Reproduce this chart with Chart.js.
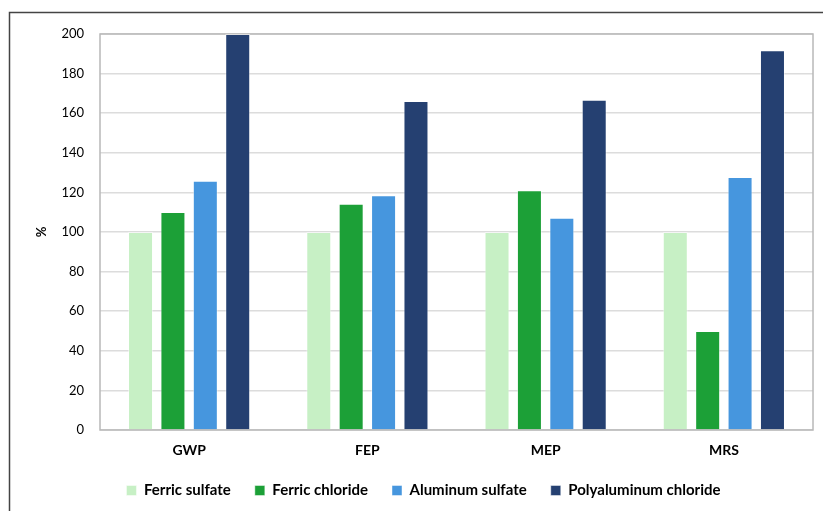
<!DOCTYPE html>
<html>
<head>
<meta charset="utf-8">
<script src="https://cdn.jsdelivr.net/npm/chart.js@4"></script>
<style>
  html, body { margin: 0; padding: 0; background: #fff; }
  #wrap { position: relative; width: 823px; height: 511px; }
</style>
</head>
<body>
<div id="wrap"><canvas id="chart" width="823" height="511"></canvas></div>
<script>
// Impact categories and relative results (%), Ferric sulfate = 100
const categories = ['GWP', 'FEP', 'MEP', 'MRS'];
const ferricSulfate = [100, 100, 100, 100];
const ferricChloride = [110.1, 114.3, 121.1, 50];
const aluminumSulfate = [125.9, 118.5, 107.2, 127.8];
const polyaluminumChloride = [200, 166.2, 166.8, 191.8];

const seriesNames = ['Ferric sulfate', 'Ferric chloride', 'Aluminum sulfate', 'Polyaluminum chloride'];
const seriesColors = ['#c7f0c5', '#1ca037', '#4696de', '#254071'];
const seriesValues = [ferricSulfate, ferricChloride, aluminumSulfate, polyaluminumChloride];

const yMin = 0, yMax = 200, yStep = 20;

const FONT = 'Lato, "Open Sans", sans-serif';

// Outer frame and plot-area outline
const framePlugin = {
  id: 'frame',
  beforeDraw(chart) {
    const ctx = chart.ctx;
    ctx.save();
    ctx.fillStyle = '#fff';
    ctx.fillRect(0, 0, chart.width, chart.height);
    ctx.strokeStyle = '#444';
    ctx.lineWidth = 1.5;
    ctx.beginPath();
    ctx.moveTo(9.5, chart.height);
    ctx.lineTo(9.5, 12.5);
    ctx.lineTo(chart.width, 12.5);
    ctx.stroke();
    ctx.restore();
  },
  beforeDatasetsDraw(chart) {
    const a = chart.chartArea;
    const ctx = chart.ctx;
    ctx.save();
    ctx.strokeStyle = '#b8b8b8';
    ctx.lineWidth = 1.5;
    ctx.strokeRect(a.left, a.top, a.right - a.left, a.bottom - a.top);
    ctx.restore();
  }
};

new Chart(document.getElementById('chart'), {
  type: 'bar',
  data: {
    labels: categories,
    datasets: seriesValues.map((vals, i) => ({
      label: seriesNames[i],
      data: vals,
      backgroundColor: seriesColors[i],
      borderColor: 'rgba(255,255,255,0.45)',
      borderWidth: 1,
      categoryPercentage: 0.727,
      barPercentage: 0.772
    }))
  },
  options: {
    responsive: false,
    animation: false,
    layout: { padding: { top: 34, right: 10, bottom: 3, left: 34 } },
    plugins: {
      tooltip: { enabled: false },
      legend: {
        position: 'bottom',
        labels: {
          boxWidth: 10,
          boxHeight: 10,
          padding: 24,
          color: '#000',
          font: { family: FONT, size: 15, weight: 'bold' }
        }
      }
    },
    scales: {
      x: {
        grid: { display: false, drawTicks: false },
        border: { display: false },
        ticks: {
          color: '#000',
          padding: 12,
          font: { family: FONT, size: 14, weight: 'bold' }
        },
        afterFit(scale) { scale.height = 29; }
      },
      y: {
        min: yMin,
        max: yMax,
        grid: { color: '#dcdcdc', lineWidth: 1.5, drawTicks: false },
        border: { display: false },
        ticks: {
          stepSize: yStep,
          color: '#000',
          padding: 16,
          font: { family: FONT, size: 13 }
        },
        title: {
          display: true,
          text: '%',
          color: '#000',
          padding: { top: 0, bottom: 0 },
          font: { family: FONT, size: 13, weight: 'bold' }
        },
        afterFit(scale) { scale.width = 66; }
      }
    }
  },
  plugins: [framePlugin]
});
</script>
</body>
</html>
